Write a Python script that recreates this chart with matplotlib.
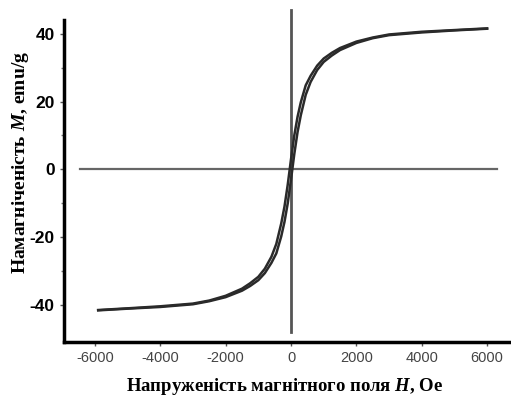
import numpy as np
import matplotlib
matplotlib.use("Agg")
import matplotlib.pyplot as plt

plt.rcParams['axes.unicode_minus'] = False
plt.rcParams['mathtext.fontset'] = 'custom'
plt.rcParams['mathtext.it'] = 'Liberation Serif:italic:bold'
plt.rcParams['mathtext.rm'] = 'Liberation Serif:bold'

# Hysteresis loop
h_field = [-5900, -5000, -4000, -3000, -2500, -2000, -1500, -1250, -1000, -800, -600, -450,
           -300, -200, -100, 0, 100, 200, 300, 450, 600, 800, 1000, 1250, 1500, 2000,
           2500, 3000, 4000, 5000, 6000]
m_ascending = [-41.6, -41.1, -40.6, -39.8, -38.9, -37.7, -35.8, -34.4, -32.7, -30.6, -27.6, -24.8,
               -19.8, -15.5, -10.0, -3.0, 4.5, 11.0, 16.0, 22.0, 25.8, 29.3, 31.7, 33.6, 35.2, 37.3,
               38.7, 39.6, 40.4, 41.0, 41.5]
m_descending = [-41.5, -41.0, -40.4, -39.6, -38.7, -37.3, -35.2, -33.6, -31.7, -29.3, -25.8, -22.0,
                -16.0, -11.0, -4.5, 3.0, 10.0, 15.5, 19.8, 24.8, 27.6, 30.6, 32.7, 34.4, 35.8, 37.7,
                38.9, 39.8, 40.6, 41.1, 41.6]

x_ticks = [-6000, -4000, -2000, 0, 2000, 4000, 6000]
y_ticks = [-40, -20, 0, 20, 40]

fig = plt.figure(figsize=(5.11, 3.98), dpi=100)
ax = fig.add_axes([0.125, 0.141, 0.873, 0.809])

# zero lines
ax.plot([-6460, 6310], [0, 0], color='#666666', lw=1.6, zorder=1)
ax.plot([0, 0], [-48, 47], color='#555555', lw=2.0, zorder=1, clip_on=False)

ax.plot(h_field, m_ascending, color='#2a2a2a', lw=1.8, zorder=2)
ax.plot(h_field, m_descending, color='#2a2a2a', lw=1.8, zorder=2)

ax.set_xlim(-6950, 6700)
ax.set_ylim(-50.9, 44.1)

ax.spines['top'].set_visible(False)
ax.spines['right'].set_visible(False)
ax.spines['left'].set_linewidth(2.5)
ax.spines['bottom'].set_linewidth(2.5)

ax.set_xticks(x_ticks)
ax.set_yticks(y_ticks)
ax.set_yticks([-30, -10, 10, 30], minor=True)
ax.tick_params(axis='both', which='major', length=3, width=1, color='#555555')
ax.tick_params(axis='y', which='minor', length=2, width=1, color='#777777')
for lab in ax.get_xticklabels():
    lab.set_fontfamily('Liberation Sans')
    lab.set_fontsize(10.5)
    lab.set_color('#444444')
for lab in ax.get_yticklabels():
    lab.set_fontfamily('Liberation Sans')
    lab.set_fontsize(12.5)
    lab.set_fontweight('bold')

ax.set_xlabel('Напруженість магнітного поля $H$, Oe', fontfamily='Liberation Serif',
              fontweight='bold', fontsize=13.5)
ax.set_ylabel('Намагніченість $M$, emu/g', fontfamily='Liberation Serif',
              fontweight='bold', fontsize=14)
ax.xaxis.set_label_coords(0.495, -0.105)
ax.yaxis.set_label_coords(-0.074, 0.556)

fig.savefig('out.png', dpi=100)
